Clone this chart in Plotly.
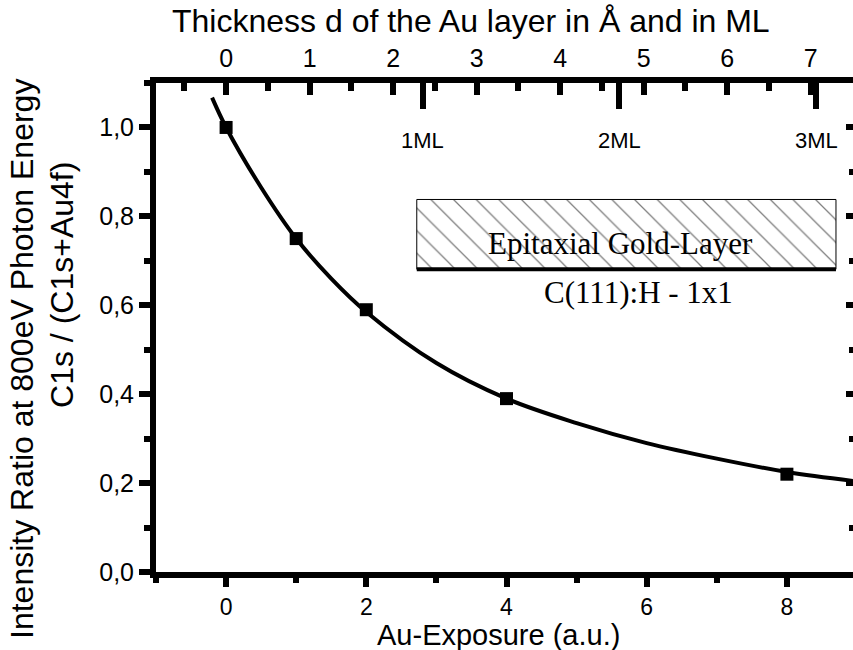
import plotly.graph_objects as go

# ---- data ----
exposure = [0, 1, 2, 4, 8]
ratio = [1.0, 0.75, 0.59, 0.39, 0.22]

fit_exposure = [-0.2, 0, 0.5, 1, 1.5, 2, 3, 4, 5, 6, 7, 8, 8.94]
fit_ratio = [1.067, 1.0, 0.865, 0.75, 0.66, 0.585, 0.47, 0.39, 0.335, 0.29, 0.255, 0.225, 0.205]

x_tickvals = [0, 2, 4, 6, 8]
y_tickvals = [0.0, 0.2, 0.4, 0.6, 0.8, 1.0]
thickness_tickvals = [0, 1, 2, 3, 4, 5, 6, 7]
ml_labels = ["1ML", "2ML", "3ML"]
ml_thickness = [2.355, 4.71, 7.065]   # Å per monolayer multiples

# conversion: Å of Au per exposure unit (top axis scale)
A_PER_UNIT = 0.8395
X_RANGE = [-1.0, 8.943]
Y_RANGE = [0.0, 1.1]
TOP_RANGE = [X_RANGE[0] * A_PER_UNIT, X_RANGE[1] * A_PER_UNIT]

# inset (decoration) geometry in data coordinates
box_x = [2.72, 8.70]
box_y = [0.681, 0.838]

SANS = "Liberation Sans, Arial, sans-serif"
SERIF = "Liberation Serif, Times New Roman, serif"
TICKFONT = dict(family=SANS, size=25, color="black")
BOTTOM_TICKFONT = dict(family=SANS, size=23, color="black")
LW = 6
TW = 5.5

fig = go.Figure()

# hatched box
fig.add_trace(go.Scatter(
    x=[box_x[0], box_x[1], box_x[1], box_x[0], box_x[0]],
    y=[box_y[0], box_y[0], box_y[1], box_y[1], box_y[0]],
    mode="lines", fill="toself",
    fillpattern=dict(shape="\\", size=16, solidity=0.08, fgcolor="black", bgcolor="white"),
    line=dict(color="black", width=1), hoverinfo="skip", showlegend=False))

# fit curve
fig.add_trace(go.Scatter(x=fit_exposure, y=fit_ratio, mode="lines",
                         line=dict(color="black", width=4, shape="spline"),
                         showlegend=False))
# data points
fig.add_trace(go.Scatter(x=exposure, y=ratio, mode="markers",
                         marker=dict(symbol="square", size=13, color="black"),
                         showlegend=False))

# dummy traces so overlay axes render
fig.add_trace(go.Scatter(x=[None], y=[None], xaxis="x2", yaxis="y", showlegend=False))
fig.add_trace(go.Scatter(x=[None], y=[None], xaxis="x3", yaxis="y", showlegend=False))
fig.add_trace(go.Scatter(x=[None], y=[None], xaxis="x", yaxis="y2", showlegend=False))

fig.update_layout(
    width=853, height=650,
    margin=dict(l=156, r=0, t=83, b=78),
    paper_bgcolor="white", plot_bgcolor="white",
    separators=",.",
    font=dict(family=SANS, color="black"),
    xaxis=dict(range=X_RANGE, tickvals=x_tickvals, ticks="outside", ticklen=9,
               tickwidth=TW, tickcolor="black", showline=True, linewidth=LW,
               linecolor="black", showgrid=False, zeroline=False, tickfont=BOTTOM_TICKFONT,
               minor=dict(dtick=1, tick0=0, ticks="outside", ticklen=5, tickwidth=TW,
                          tickcolor="black")),
    yaxis=dict(range=Y_RANGE, tickvals=y_tickvals, tickformat=".1f", ticks="outside",
               ticklen=11, tickwidth=TW, tickcolor="black", showline=True, linewidth=LW,
               linecolor="black", showgrid=False, zeroline=False, tickfont=TICKFONT,
               minor=dict(dtick=0.1, tick0=0, ticks="outside", ticklen=6, tickwidth=TW,
                          tickcolor="black")),
    xaxis2=dict(overlaying="x", side="top", anchor="y", range=TOP_RANGE,
                tickvals=thickness_tickvals, ticks="inside", ticklen=12, tickwidth=TW,
                tickcolor="black", showline=True, linewidth=LW, linecolor="black",
                showgrid=False, zeroline=False, tickfont=TICKFONT,
                minor=dict(dtick=0.5, tick0=0, ticks="inside", ticklen=8, tickwidth=TW,
                           tickcolor="black")),
    xaxis3=dict(overlaying="x", side="top", anchor="y", range=TOP_RANGE,
                tickvals=ml_thickness, ticks="inside", ticklen=26, tickwidth=TW,
                tickcolor="black", showticklabels=False, showline=False,
                showgrid=False, zeroline=False),
    yaxis2=dict(overlaying="y", side="right", anchor="x", range=Y_RANGE,
                tickvals=y_tickvals, ticks="inside", ticklen=7, tickwidth=TW,
                tickcolor="black", showticklabels=False, showline=False,
                showgrid=False, zeroline=False,
                minor=dict(dtick=0.1, tick0=0, ticks="inside", ticklen=4, tickwidth=TW,
                           tickcolor="black")),
)

# thick base line of the hatched box
fig.add_shape(type="line", xref="x", yref="y", x0=box_x[0], x1=box_x[1],
              y0=box_y[0], y1=box_y[0], line=dict(color="black", width=4))

annotations = [
    dict(text="Thickness d of the Au layer in Å and in ML", xref="paper", yref="paper",
         x=0.452, y=1.127, font=dict(family=SANS, size=32)),
    dict(text="Au-Exposure (a.u.)", xref="paper", yref="paper",
         x=0.492, y=-0.1285, font=dict(family=SANS, size=29)),
    dict(text="Intensity Ratio at 800eV Photon Energy", xref="paper", yref="paper",
         x=-0.1923, y=0.4356, textangle=-90, font=dict(family=SANS, size=32)),
    dict(text="C1s / (C1s+Au4f)", xref="paper", yref="paper",
         x=-0.1349, y=0.587, textangle=-90, font=dict(family=SANS, size=32)),
    dict(text="Epitaxial Gold-Layer", xref="x", yref="y", x=5.62, y=0.74,
         font=dict(family=SERIF, size=31)),
    dict(text="C(111):H - 1x1", xref="x", yref="y", x=5.89, y=0.629,
         font=dict(family=SERIF, size=31)),
]
for lab, pos in zip(ml_labels, ml_thickness):
    annotations.append(dict(text=lab, xref="x2", yref="y", x=pos, y=0.971,
                            font=dict(family=SANS, size=22)))
for a in annotations:
    a.update(showarrow=False, xanchor="center", yanchor="middle")
fig.update_layout(annotations=annotations)

fig.write_html("out.html")
